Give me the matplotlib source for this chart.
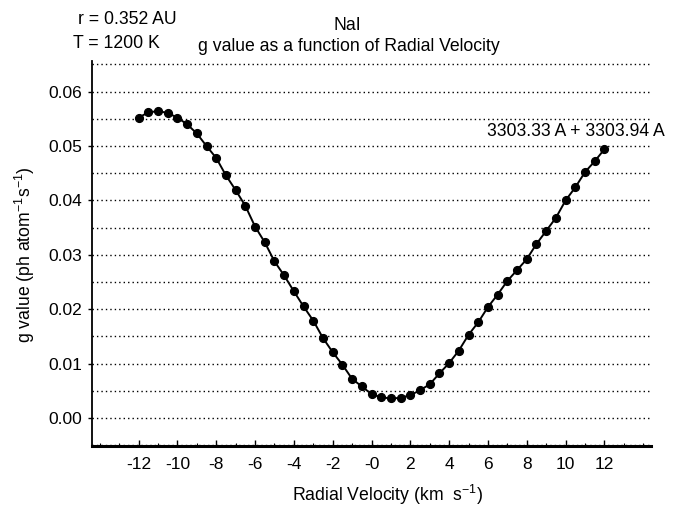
import numpy as np
import matplotlib
matplotlib.use("Agg")
import matplotlib.pyplot as plt
from matplotlib.ticker import FixedLocator, MultipleLocator

# radial velocity (km/s) and g value (ph atom^-1 s^-1)
velocity = [-12, -11.5, -11, -10.5, -10, -9.5, -9, -8.5, -8, -7.5, -7, -6.5,
            -6, -5.5, -5, -4.5, -4, -3.5, -3, -2.5, -2, -1.5, -1, -0.5,
            0, 0.5, 1, 1.5, 2, 2.5, 3, 3.5, 4, 4.5, 5, 5.5, 6, 6.5,
            7, 7.5, 8, 8.5, 9, 9.5, 10, 10.5, 11, 11.5, 12]
g_value = [0.0552, 0.0562, 0.0564, 0.0561, 0.0552, 0.0540, 0.0523, 0.0500,
           0.0478, 0.0446, 0.0419, 0.0390, 0.0352, 0.0323, 0.0288, 0.0262,
           0.0233, 0.0205, 0.0179, 0.0147, 0.0121, 0.0098, 0.0072, 0.0058,
           0.0044, 0.0038, 0.0036, 0.0037, 0.0042, 0.0051, 0.0062, 0.0082,
           0.0101, 0.0124, 0.0153, 0.0176, 0.0204, 0.0227, 0.0252, 0.0272,
           0.0292, 0.0320, 0.0344, 0.0368, 0.0400, 0.0424, 0.0452, 0.0472,
           0.0494]

x_ticks = [-12, -10, -8, -6, -4, -2, 0, 2, 4, 6, 8, 10, 12]
x_ticklabels = ['-12', '-10', '-8', '-6', '-4', '-2', '-0', '2', '4', '6', '8', '10', '12']
y_ticks = [0.00, 0.01, 0.02, 0.03, 0.04, 0.05, 0.06]
y_ticklabels = ['0.00', '0.01', '0.02', '0.03', '0.04', '0.05', '0.06']
grid_levels = [-0.005, 0.0, 0.005, 0.01, 0.015, 0.02, 0.025, 0.03, 0.035,
               0.04, 0.045, 0.05, 0.055, 0.06, 0.065]

plt.rcParams['font.family'] = ['Liberation Sans', 'DejaVu Sans']
plt.rcParams['font.size'] = 12.7

W, H = 679, 508
fig = plt.figure(figsize=(W / 100, H / 100), dpi=100)
ax = fig.add_axes([92 / W, 1 - 446.3 / H, 559 / W, 385.7 / H])

# dotted horizontal grid
for g in grid_levels:
    ax.axhline(g, color='black', lw=1.0, ls=(0, (1, 2.2)), zorder=1)

ax.plot(velocity, g_value, color='black', lw=1.4, marker='o',
        markersize=5.6, zorder=3)

ax.set_xlim(-14.4, 14.4)
ax.set_ylim(-0.0052, 0.0657)

ax.spines['top'].set_visible(False)
ax.spines['right'].set_visible(False)
ax.spines['left'].set_linewidth(1.3)
ax.spines['bottom'].set_linewidth(2.2)

ax.xaxis.set_major_locator(FixedLocator(x_ticks))
ax.set_xticklabels(x_ticklabels, fontsize=12.5)
ax.xaxis.set_minor_locator(MultipleLocator(1))
ax.tick_params(axis='x', which='major', direction='in', length=4, width=1, pad=8)
ax.tick_params(axis='x', which='minor', direction='in', length=2, width=0.8)

ax.yaxis.set_major_locator(FixedLocator(y_ticks))
ax.set_yticklabels(y_ticklabels, fontsize=12.5)
ax.tick_params(axis='y', which='major', direction='out', length=3, width=1, pad=4)

def ftext(x, y, s, **kw):
    fig.text(x / W, 1 - y / H, s, va='center', **kw)

ftext(78, 20, 'r = 0.352 AU', ha='left')
ftext(73, 43, 'T = 1200 K', ha='left')
ftext(347, 25, 'NaI', ha='center')
ftext(349, 46, 'g value as a function of Radial Velocity', ha='center')
ftext(576, 131, '3303.33 A + 3303.94 A', ha='center')
ftext(25, 255, r'g value (ph atom$^{\mathregular{-1}}$s$^{\mathregular{-1}}$)',
      ha='center', rotation=90)
ftext(388, 495, r'Radial Velocity (km  s$^{\mathregular{-1}}$)', ha='center')

fig.savefig('out.png', dpi=100)
